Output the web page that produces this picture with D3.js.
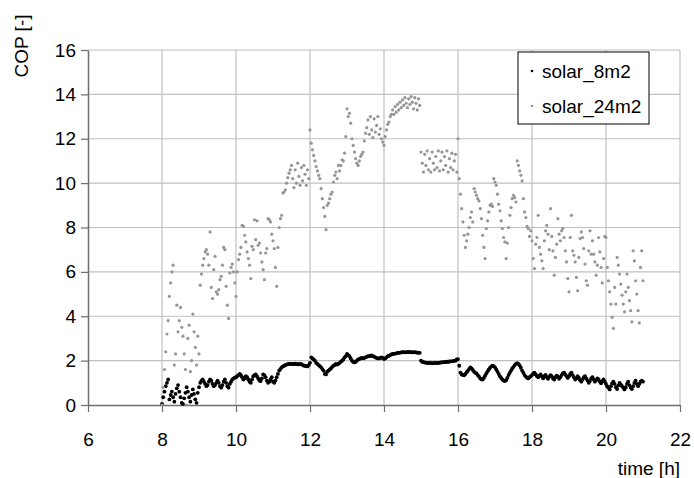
<!DOCTYPE html>
<html>
<head>
<meta charset="utf-8">
<script src="https://cdn.jsdelivr.net/npm/d3@7/dist/d3.min.js"></script>
<style>
  html, body { margin: 0; padding: 0; background: #fff; }
  svg { display: block; font-family: Arial, "Liberation Sans", sans-serif; }
</style>
</head>
<body>
<div id="chart"></div>
<script>
// COP over the day, two collector sizes (2-min samples from 8:00 to 21:00)
const T_START = 8;          // h
const STEP_H  = 2 / 60;     // sample step, h

const xTicks = [6, 8, 10, 12, 14, 16, 18, 20, 22];
const yTicks = [0, 2, 4, 6, 8, 10, 12, 14, 16];
const seriesNames = ["solar_8m2", "solar_24m2"];

// solar_8m2 – one row per half hour
const cop8 = [
  0.05,0.35,0.6,0.85,1.0,1.15,0.25,0.45,0.6,0.35,0.15,0.5,0.75,0.9,0.6,
  0.35,0.1,0.05,0.3,0.55,0.8,0.6,0.35,0.15,0.45,0.7,0.5,0.25,0.1,0.55,
  0.8,1.0,1.1,1.15,1.05,0.95,0.85,0.9,1.05,1.15,1.1,0.95,0.85,0.9,1.0,
  1.1,1.0,0.85,0.78,0.9,1.05,1.15,1.0,0.85,0.78,0.95,1.05,1.15,1.2,1.23,
  1.25,1.3,1.35,1.4,1.35,1.25,1.15,1.2,1.3,1.25,1.15,1.05,1.0,1.15,1.3,
  1.35,1.38,1.3,1.2,1.1,1.08,1.2,1.38,1.35,1.25,1.1,1.0,1.05,1.15,1.25,
  1.05,1.0,1.1,1.25,1.4,1.55,1.62,1.7,1.74,1.77,1.8,1.82,1.84,1.85,1.85,
  1.85,1.84,1.85,1.86,1.84,1.85,1.83,1.85,1.84,1.8,1.78,1.76,1.75,1.74,1.8,
  1.9,2.15,2.1,2.05,2.0,1.9,1.85,1.8,1.75,1.7,1.62,1.55,1.4,1.38,1.5,
  1.55,1.6,1.65,1.72,1.77,1.8,1.85,1.82,1.85,1.9,1.95,2.0,2.05,2.15,2.2,
  2.3,2.25,2.2,2.1,2.0,1.95,1.92,1.95,2.0,2.05,2.07,2.1,2.12,2.1,2.12,
  2.15,2.17,2.2,2.2,2.22,2.23,2.2,2.18,2.15,2.12,2.1,2.1,2.12,2.15,2.12,
  2.07,2.1,2.15,2.2,2.22,2.25,2.28,2.3,2.3,2.32,2.33,2.35,2.35,2.36,2.37,
  2.38,2.38,2.37,2.38,2.38,2.39,2.38,2.38,2.37,2.38,2.38,2.37,2.36,2.36,2.35,
  2.0,1.95,1.93,1.92,1.9,1.9,1.89,1.9,1.9,1.89,1.88,1.9,1.9,1.89,1.9,
  1.9,1.92,1.92,1.93,1.93,1.94,1.95,1.95,1.96,1.97,1.97,1.98,2.0,2.0,2.05,
  2.07,1.77,1.46,1.38,1.35,1.34,1.4,1.48,1.54,1.62,1.7,1.65,1.58,1.5,1.45,
  1.42,1.35,1.28,1.2,1.16,1.15,1.22,1.32,1.42,1.52,1.6,1.68,1.74,1.77,1.75,
  1.7,1.6,1.5,1.4,1.3,1.22,1.15,1.1,1.08,1.12,1.22,1.35,1.45,1.55,1.65,
  1.72,1.8,1.85,1.89,1.85,1.78,1.68,1.55,1.45,1.35,1.28,1.22,1.2,1.25,1.3,
  1.35,1.42,1.46,1.38,1.3,1.25,1.32,1.38,1.28,1.2,1.3,1.36,1.25,1.18,1.28,
  1.35,1.3,1.2,1.15,1.25,1.32,1.28,1.18,1.25,1.35,1.42,1.46,1.38,1.3,1.22,
  1.3,1.4,1.46,1.35,1.25,1.15,1.2,1.3,1.22,1.12,1.05,1.15,1.25,1.3,1.2,
  1.1,1.0,1.08,1.2,1.25,1.15,1.05,1.12,1.2,1.15,1.05,0.98,1.08,1.15,1.05,
  0.95,0.85,0.78,0.7,0.85,0.98,1.05,0.95,0.8,0.72,0.88,1.0,0.92,0.85,0.78,
  0.7,0.8,0.95,1.05,0.9,0.78,0.72,0.85,1.0,1.1,0.95,0.85,0.95,1.05,1.1,
  1.05
];

// solar_24m2 – one row per half hour
const cop24 = [
  0,0.8,1.6,2.4,3.2,3.8,4.9,5.5,6.0,6.3,1.8,2.3,4.5,3.3,3.8,
  4.4,3.5,3.1,2.3,1.6,0.0,3.0,3.6,1.5,2.0,4.1,3.3,2.6,1.8,3.1,
  2.3,5.4,5.9,6.3,6.6,6.9,7.0,6.8,6.3,7.8,5.3,4.8,6.1,6.7,5.1,
  5.0,5.2,5.65,5.8,6.3,7.1,7.0,5.35,4.5,3.9,5.95,6.2,6.35,6.0,5.5,
  4.9,6.0,6.55,6.8,7.1,8.1,8.05,7.65,7.35,6.9,6.6,6.3,5.7,7.15,7.0,
  8.35,7.45,8.3,7.2,7.3,6.85,6.45,6.1,5.65,6.85,7.05,8.4,8.35,8.25,7.7,
  7.4,7.05,6.2,5.35,7.1,8.0,8.4,8.55,9.55,9.6,9.7,10.0,10.25,10.45,10.6,
  10.8,10.2,9.8,10.6,10.0,10.9,10.3,9.9,10.7,10.1,10.8,10.4,9.9,10.6,10.2,
  12.4,11.8,11.5,11.25,11.0,10.75,10.55,10.35,10.2,9.75,9.3,8.9,8.5,7.9,9.0,
  9.1,9.3,9.5,9.6,10.05,10.35,10.5,10.2,10.8,10.55,10.8,11.05,11.0,11.35,12.1,
  13.35,13.0,13.15,12.7,12.0,11.7,11.4,11.1,10.9,10.8,11.0,11.2,11.3,11.4,11.9,
  12.25,12.5,12.85,12.2,13.0,12.4,12.05,12.9,12.3,12.6,13.0,12.2,12.45,12.0,11.85,
  11.7,12.1,12.4,12.65,12.75,13.0,13.1,13.3,13.1,13.45,13.2,13.55,13.3,13.65,13.4,
  13.75,13.5,13.85,13.6,13.4,13.8,13.55,13.9,13.65,13.35,13.85,13.6,13.3,13.8,13.5,
  11.4,10.9,10.5,11.3,10.8,11.45,10.6,11.1,10.5,11.4,10.9,10.6,11.2,10.7,11.45,
  10.55,11.0,11.4,10.6,11.2,10.8,11.45,10.5,11.1,10.7,11.35,10.6,11.0,11.3,10.5,
  12.0,10.2,9.5,8.85,8.25,7.65,7.1,7.4,7.7,8.0,8.45,8.7,8.25,9.75,9.6,
  9.45,9.3,9.2,8.85,8.4,7.65,7.1,6.6,7.95,8.3,8.7,9.0,9.05,8.95,10.2,
  10.05,9.9,9.5,9.05,8.75,8.3,7.95,7.55,7.35,6.6,7.3,8.0,8.55,8.9,9.3,
  9.45,9.35,9.15,11.0,10.8,10.55,10.35,10.1,9.3,8.7,8.45,8.05,7.95,7.6,7.85,
  7.4,6.6,6.15,7.25,7.55,8.55,7.1,6.8,6.5,6.15,7.4,7.85,8.1,7.7,7.0,
  8.85,7.6,6.95,5.85,6.65,7.25,8.4,7.7,7.4,7.85,7.95,7.55,6.95,6.45,5.7,
  5.1,7.55,8.55,6.95,6.75,6.45,5.75,5.15,6.65,7.5,7.8,7.55,7.05,6.35,5.6,
  5.4,6.95,7.85,6.8,7.4,6.8,6.45,5.85,6.3,7.55,6.9,6.2,5.5,6.6,7.6,
  7.55,6.2,5.6,5.1,4.55,3.95,3.45,5.3,4.55,6.65,6.3,5.9,5.45,4.95,4.55,
  4.2,5.1,5.9,5.3,4.7,4.25,3.75,6.95,6.5,5.6,5.0,4.25,3.7,6.2,6.95,
  5.6
];

/* ---------- layout ---------- */
const width = 694, height = 478;
const margin = { top: 50, right: 14, bottom: 73, left: 88 };
const FONT = 19;
const colors = { solar_8m2: "#000000", solar_24m2: "#969696" };

const svg = d3.select("#chart").append("svg")
  .attr("width", width)
  .attr("height", height);

const x = d3.scaleLinear().domain([6, 22]).range([margin.left, width - margin.right]);
const y = d3.scaleLinear().domain([0, 16]).range([height - margin.bottom, margin.top]);

// grid
svg.append("g")
  .selectAll("line.h").data(yTicks.filter(d => d > 0)).join("line")
    .attr("x1", margin.left).attr("x2", width - margin.right)
    .attr("y1", d => y(d)).attr("y2", d => y(d))
    .attr("stroke", "#c0c0c0").attr("stroke-width", 1.2);
svg.append("g")
  .selectAll("line.v").data(xTicks.filter(d => d > 6)).join("line")
    .attr("x1", d => x(d)).attr("x2", d => x(d))
    .attr("y1", margin.top).attr("y2", height - margin.bottom)
    .attr("stroke", "#c0c0c0").attr("stroke-width", 1.2);

// axes
const gx = svg.append("g")
  .attr("transform", `translate(0,${height - margin.bottom})`)
  .call(d3.axisBottom(x).tickValues(xTicks).tickSize(7).tickPadding(21).tickSizeOuter(0));
const gy = svg.append("g")
  .attr("transform", `translate(${margin.left},0)`)
  .call(d3.axisLeft(y).tickValues(yTicks).tickSize(7).tickPadding(5).tickSizeOuter(0));
[gx, gy].forEach(g => {
  g.select(".domain").attr("stroke", "#6e6e6e").attr("stroke-width", 1.5);
  g.selectAll(".tick line").attr("stroke", "#6e6e6e").attr("stroke-width", 1.2);
  g.selectAll(".tick text").attr("font-size", FONT).attr("fill", "#000")
    .attr("font-family", "Arial, 'Liberation Sans', sans-serif");
});

// axis titles
svg.append("text")
  .attr("x", width - margin.right).attr("y", 475)
  .attr("text-anchor", "end").attr("font-size", FONT)
  .text("time [h]");
svg.append("text")
  .attr("transform", "translate(28,46) rotate(-90)")
  .attr("text-anchor", "middle").attr("font-size", FONT)
  .text("COP [-]");

// points
const tOf = i => T_START + i * STEP_H;
const data = [
  { name: "solar_8m2",  values: cop8,  r: 1.9 },
  { name: "solar_24m2", values: cop24, r: 1.6 }
];
data.forEach(s => {
  svg.append("g").selectAll("circle")
    .data(s.values)
    .join("circle")
      .attr("cx", (d, i) => x(tOf(i)))
      .attr("cy", d => y(d))
      .attr("r", s.r)
      .attr("fill", colors[s.name]);
});

// legend
const lg = svg.append("g").attr("transform", "translate(518,52)");
lg.append("rect")
  .attr("width", 131).attr("height", 72)
  .attr("fill", "#fff").attr("stroke", "#000").attr("stroke-width", 1);
const item = lg.selectAll("g").data(seriesNames).join("g")
  .attr("transform", (d, i) => `translate(0,${19 + i * 35})`);
item.append("circle").attr("cx", 14).attr("cy", 0).attr("r", 1.3)
  .attr("fill", d => colors[d]);
item.append("text").attr("x", 24).attr("y", 7)
  .attr("font-size", FONT).text(d => d);
</script>
</body>
</html>
